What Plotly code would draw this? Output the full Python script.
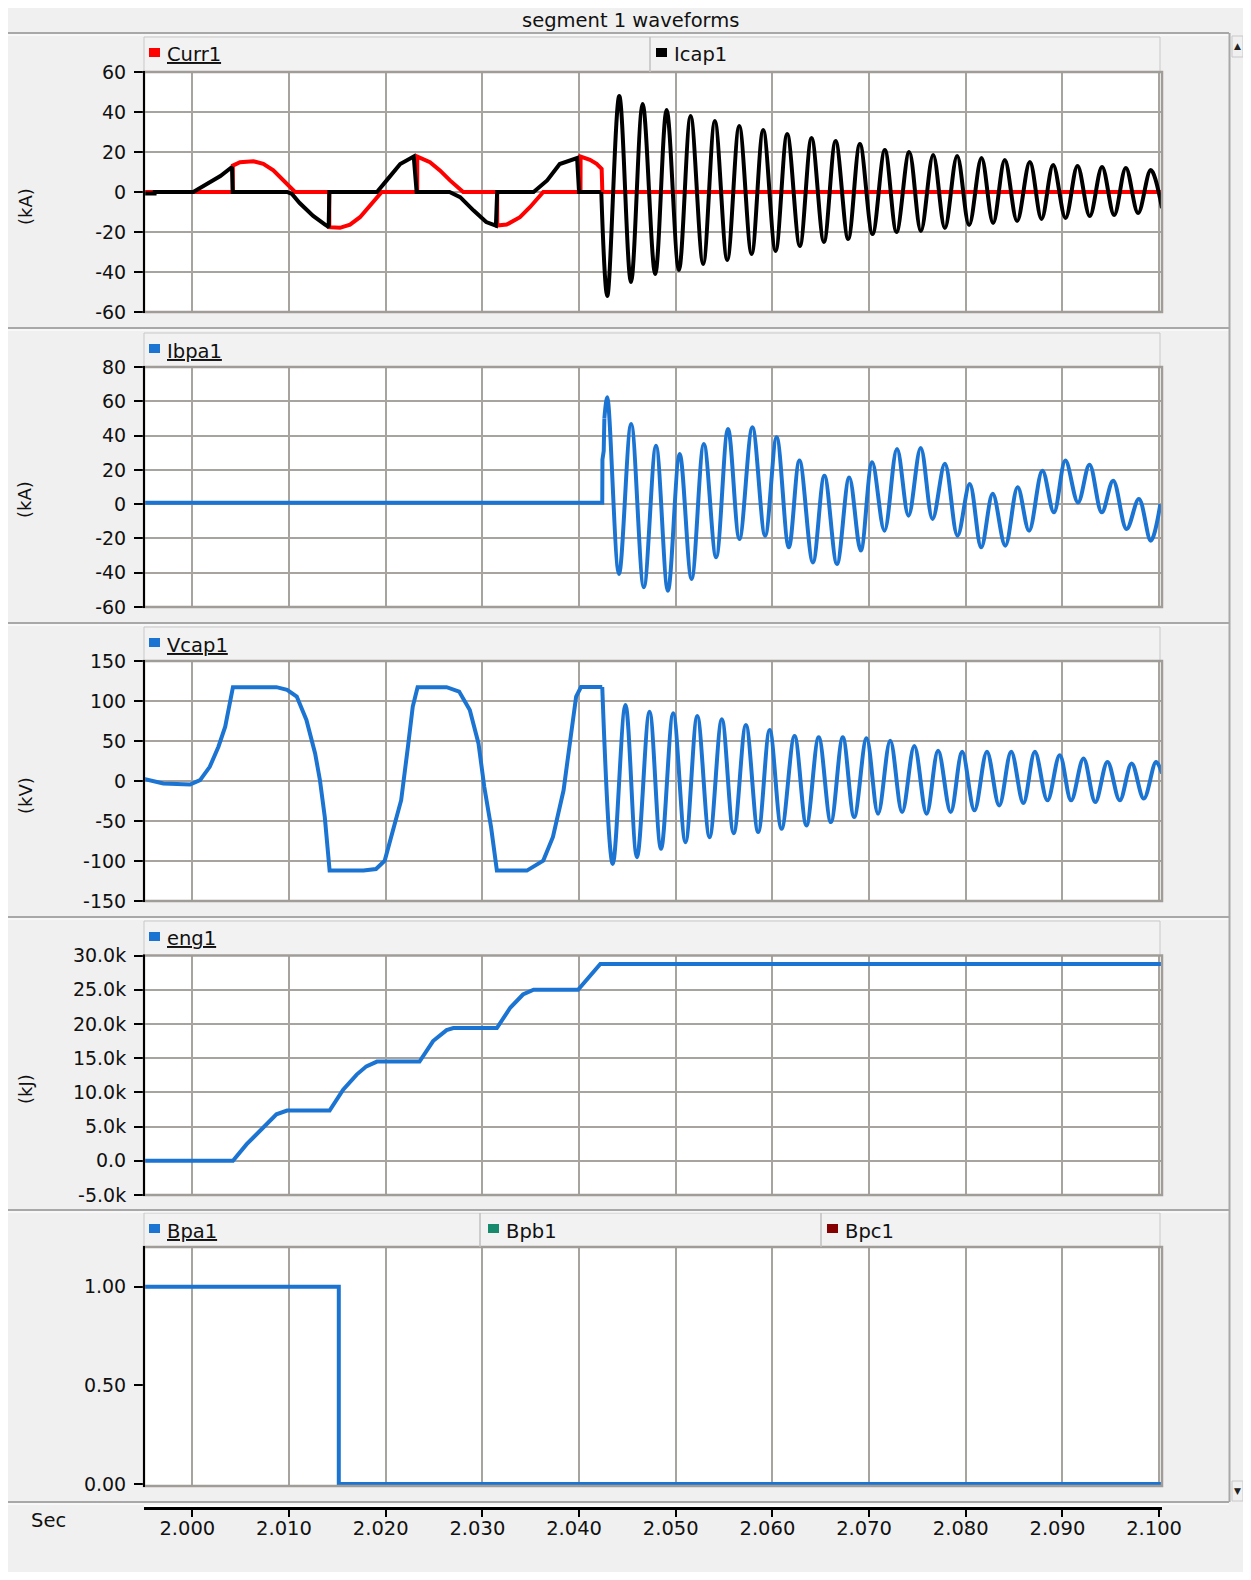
import plotly.graph_objects as go

# ---------------- data (time in s) ----------------
curr1_t = [1.99500, 2.00418, 2.00419, 2.00493, 2.00631, 2.00734, 2.00838, 2.00907, 2.00976, 2.01062,
           2.01416, 2.01417, 2.01527, 2.01631, 2.01734, 2.01837, 2.01907, 2.01959,
           2.02326, 2.02327, 2.02458, 2.02561, 2.02665, 2.02768, 2.02802,
           2.03153, 2.03154, 2.03251, 2.03389, 2.03492, 2.03578, 2.03630,
           2.04015, 2.04016, 2.04113, 2.04182, 2.04234, 2.04241, 2.10030]
curr1_v = [0, 0, 13.2, 14.9, 15.4, 14.1, 10.8, 7.4, 4.1, 0,
           0, -17.6, -17.9, -16.3, -12.6, -6.8, -2.6, 0,
           0, 17.7, 14.9, 10.8, 5.8, 1.6, 0,
           0, -16.8, -16.3, -12.6, -7.6, -2.6, 0,
           0, 17.7, 16.1, 14.1, 11.6, 0, 0]

icap_pre_t = [1.99500, 1.99610, 1.99611, 2.00010, 2.00150, 2.00290, 2.00410, 2.00418,
              2.00980, 2.01030, 2.01110, 2.01250, 2.01380, 2.01410, 2.01417,
              2.01910, 2.02010, 2.02150, 2.02290, 2.02320,
              2.02660, 2.02770, 2.02910, 2.03040, 2.03140, 2.03153,
              2.03530, 2.03670, 2.03800, 2.03980, 2.04000, 2.04230]
icap_pre_v = [-0.8, -0.8, 0, 0, 4, 8, 12.5, 0,
              0, -1, -5.5, -12, -16.5, -17.6, 0,
              0, 5.8, 14, 17.7, 0,
              0, -2.6, -9.3, -15, -16.8, 0,
              0, 5.8, 14, 17, 0, 0]

icap_post_t = [2.04230, 2.04292, 2.04416, 2.04537, 2.04658, 2.04788, 2.04906, 2.05033, 2.05154, 2.05284,
               2.05405, 2.05533, 2.05657, 2.05785, 2.05905, 2.06033, 2.06153, 2.06284, 2.06405, 2.06533,
               2.06654, 2.06784, 2.06905, 2.07036, 2.07163, 2.07284, 2.07415, 2.07536, 2.07663, 2.07784,
               2.07911, 2.08035, 2.08163, 2.08283, 2.08404, 2.08531, 2.08663, 2.08784, 2.08904, 2.09032,
               2.09156, 2.09283, 2.09410, 2.09535, 2.09656, 2.09783, 2.09914, 2.10030]
icap_post_v = [0, -52, 48, -45, 44, -41, 41, -39, 38, -36,
               35.5, -34, 33, -31, 31, -29.5, 29, -27, 27, -25,
               25.5, -23.5, 24, -21, 21, -20, 20, -19.5, 18.5, -18,
               18, -16.5, 17, -15.5, 16, -14.5, 15, -13.5, 13.5, -13,
               13, -12, 12.5, -11.5, 12, -10.5, 11, -8]

ibpa_pre_t = [1.99500, 2.04240, 2.04242, 2.04255, 2.04262]
ibpa_pre_v = [0.8, 0.8, 26, 31, 50]
ibpa_post_t = [2.04262, 2.04292, 2.04413, 2.04539, 2.04670, 2.04796, 2.04919, 2.05041, 2.05164, 2.05291,
               2.05418, 2.05541, 2.05659, 2.05793, 2.05925, 2.06044, 2.06170, 2.06280, 2.06419, 2.06538,
               2.06668, 2.06795, 2.06914, 2.07032, 2.07159, 2.07289, 2.07408, 2.07534, 2.07657, 2.07784,
               2.07915, 2.08041, 2.08160, 2.08279, 2.08409, 2.08537, 2.08655, 2.08793, 2.08912, 2.09031,
               2.09161, 2.09280, 2.09407, 2.09525, 2.09664, 2.09791, 2.09914, 2.10013]
ibpa_post_v = [50, 62.3, -40.7, 46.8, -48.5, 34.1, -50.5, 29.3, -43.6, 35.1,
               -31.0, 43.9, -20.3, 44.8, -18.4, 39.0, -25.2, 25.4, -34.0, 16.6,
               -34.9, 15.6, -27.1, 24.4, -15.5, 32.2, -6.7, 32.8, -8.6, 23.5,
               -18.4, 11.8, -25.2, 6.0, -24.2, 9.8, -15.5, 19.5, -4.8, 25.4,
               1.0, 23.0, -4.8, 13.7, -14.5, 3.0, -21.3, 0]

vcap_pre_t = [1.99500, 1.99700, 1.99976, 2.00080, 2.00180, 2.00270, 2.00340, 2.00390, 2.00420,
              2.00870, 2.00980, 2.01080, 2.01180, 2.01270, 2.01320, 2.01370, 2.01420,
              2.01770, 2.01900, 2.01990, 2.02070, 2.02160, 2.02230, 2.02280, 2.02330,
              2.02630, 2.02760, 2.02870, 2.02960, 2.03020, 2.03090, 2.03150,
              2.03460, 2.03630, 2.03730, 2.03840, 2.03900, 2.03970, 2.04020, 2.04240]
vcap_pre_v = [2.7, -3.2, -4.5, 1.0, 17.7, 42.8, 67.9, 101.4, 117.3,
              117.3, 114.0, 105.6, 76.3, 34.5, 1.0, -45.0, -112.0,
              -112.0, -110.0, -99.5, -66.0, -24.0, 42.8, 93.0, 117.3,
              117.3, 111.8, 88.8, 47.0, -7.5, -57.7, -112.0,
              -112.0, -99.5, -70.0, -11.6, 42.8, 105.6, 117.5, 117.5]
vcap_post_t = [2.04240, 2.04349, 2.04480, 2.04599, 2.04729, 2.04848, 2.04974, 2.05101, 2.05223, 2.05350,
               2.05477, 2.05600, 2.05726, 2.05853, 2.05972, 2.06095, 2.06229, 2.06352, 2.06479, 2.06605,
               2.06728, 2.06846, 2.06974, 2.07093, 2.07219, 2.07342, 2.07468, 2.07595, 2.07714, 2.07844,
               2.07963, 2.08090, 2.08219, 2.08346, 2.08470, 2.08596, 2.08715, 2.08845, 2.08972, 2.09090,
               2.09218, 2.09340, 2.09466, 2.09593, 2.09716, 2.09842, 2.09969, 2.10030]
vcap_post_v = [117.5, -103.7, 95.1, -95.3, 86.7, -84.8, 84.7, -76.5, 81.3, -70.2,
               77.1, -65.2, 70.0, -63.9, 63.7, -59.7, 56.2, -55.6, 54.6, -51.4,
               54.6, -45.1, 53.3, -40.9, 50.3, -38.9, 43.6, -40.9, 37.7, -38.9,
               36.5, -36.7, 36.5, -30.5, 36.5, -27.6, 36.5, -24.2, 32.3, -24.2,
               28.2, -26.3, 23.9, -24.2, 21.9, -22.0, 23.9, 9.4]

eng1_t = [1.99500, 2.00420, 2.00560, 2.00730, 2.00870, 2.00980, 2.01420, 2.01560, 2.01700, 2.01800,
          2.01910, 2.02350, 2.02490, 2.02630, 2.02700, 2.03150, 2.03290, 2.03420, 2.03530, 2.03990,
          2.04110, 2.04220, 2.10030]
eng1_v = [0, 0, 2400, 4900, 6800, 7350, 7350, 10400, 12600, 13800,
          14500, 14500, 17500, 19100, 19400, 19400, 22400, 24300, 25000, 25000,
          27000, 28750, 28750]

bpa1_t = [1.99500, 2.01515, 2.01515, 2.10030]
bpa1_v = [1.0, 1.0, 0.0, 0.0]

x_tick_vals = [2.000, 2.010, 2.020, 2.030, 2.040, 2.050, 2.060, 2.070, 2.080, 2.090, 2.100]
x_tick_text = ["2.000", "2.010", "2.020", "2.030", "2.040", "2.050", "2.060", "2.070", "2.080", "2.090", "2.100"]

# ---------------- layout helpers ----------------
# The page body keeps an 8 px margin, so the figure is 16 px smaller than the window
OFF = 8
W, H = 1251 - 2 * OFF, 1580 - 2 * OFF
def fx(p): return (p - OFF) / W
def fy(p): return 1 - (p - OFF) / H

PL, PR = 144, 1162
X_RANGE = [1.995, 2.1003]
FONT = "DejaVu Sans"
GRID = "#a7a39e"
FRAME = "#a09c98"
BLUE = "#1c74d2"
RED = "#ff0000"
BLACK = "#000000"
BG = "#f0f0f0"
TXT = "#111111"
LW = 4

panels = [
    dict(top=72, bot=312, rng=[-60, 60], tv=[-60, -40, -20, 0, 20, 40, 60],
         tt=["-60", "-40", "-20", "0", "20", "40", "60"], grid=True, unit="(kA)", uy=207, lt=37,
         legend=[("Curr1", RED, True, 149), ("Icap1", BLACK, False, 656)], dividers=[650]),
    dict(top=367, bot=607, rng=[-60, 80], tv=[-60, -40, -20, 0, 20, 40, 60, 80],
         tt=["-60", "-40", "-20", "0", "20", "40", "60", "80"], grid=True, unit="(kA)", uy=500, lt=333,
         legend=[("Ibpa1", BLUE, True, 149)], dividers=[]),
    dict(top=661, bot=901, rng=[-150, 150], tv=[-150, -100, -50, 0, 50, 100, 150],
         tt=["-150", "-100", "-50", "0", "50", "100", "150"], grid=True, unit="(kV)", uy=796, lt=627,
         legend=[("Vcap1", BLUE, True, 149)], dividers=[]),
    dict(top=955.5, bot=1195, rng=[-5000, 30000],
         tv=[-5000, 0, 5000, 10000, 15000, 20000, 25000, 30000],
         tt=["-5.0k", "0.0", "5.0k", "10.0k", "15.0k", "20.0k", "25.0k", "30.0k"],
         grid=True, unit="(kJ)", uy=1089, lt=921,
         legend=[("eng1", BLUE, True, 149)], dividers=[]),
    dict(top=1247, bot=1486, rng=[-0.010, 1.201], tv=[0, 0.5, 1.0],
         tt=["0.00", "0.50", "1.00"], grid=False, unit=None, uy=None, lt=1213,
         legend=[("Bpa1", BLUE, True, 149), ("Bpb1", "#178a6e", False, 488), ("Bpc1", "#850000", False, 827)],
         dividers=[480, 821]),
]

fig = go.Figure()

def ax(i):
    return ("x", "y") if i == 1 else (f"x{i}", f"y{i}")

series = [
    (1, curr1_t, curr1_v, RED, "linear"),
    (1, icap_pre_t, icap_pre_v, BLACK, "linear"),
    (1, icap_post_t, icap_post_v, BLACK, "spline"),
    (2, ibpa_pre_t, ibpa_pre_v, BLUE, "linear"),
    (2, ibpa_post_t, ibpa_post_v, BLUE, "spline"),
    (3, vcap_pre_t, vcap_pre_v, BLUE, "linear"),
    (3, vcap_post_t, vcap_post_v, BLUE, "spline"),
    (4, eng1_t, eng1_v, BLUE, "linear"),
    (5, bpa1_t, bpa1_v, BLUE, "linear"),
]
for (p, t, v, c, shp) in series:
    xa, ya = ax(p)
    line = dict(color=c, width=LW, shape=shp)
    if shp == "spline":
        line["smoothing"] = 1.0
    fig.add_trace(go.Scatter(x=t, y=v, mode="lines", line=line, xaxis=xa, yaxis=ya,
                             showlegend=False, hoverinfo="skip"))

# dummy trace for the shared bottom time axis
fig.add_trace(go.Scatter(x=[2.0], y=[None], mode="lines", xaxis="x6", yaxis="y6",
                         showlegend=False, hoverinfo="skip"))

layout = dict(width=W, height=H, autosize=False,
              margin=dict(l=0, r=0, t=0, b=0, pad=0, autoexpand=False),
              paper_bgcolor=BG, plot_bgcolor="white", showlegend=False,
              font=dict(family=FONT, size=18, color=TXT))

shapes = []
annotations = []

for i, P in enumerate(panels, start=1):
    xa, ya = ax(i)
    xkey = "xaxis" if i == 1 else f"xaxis{i}"
    ykey = "yaxis" if i == 1 else f"yaxis{i}"
    layout[xkey] = dict(domain=[fx(PL), fx(PR)], range=X_RANGE, anchor=ya, automargin=False,
                        showticklabels=False, ticks="", showgrid=True, gridcolor=GRID, gridwidth=2,
                        tickvals=x_tick_vals, zeroline=False, showline=False, fixedrange=True)
    layout[ykey] = dict(domain=[fy(P["bot"]), fy(P["top"])], range=P["rng"], anchor=xa,
                        automargin=False, ticklabelstandoff=4,
                        tickvals=P["tv"], ticktext=P["tt"], ticks="outside", ticklen=9,
                        tickwidth=1.5, tickcolor="black", showgrid=P["grid"], gridcolor=GRID,
                        gridwidth=2, zeroline=False, showline=False,
                        tickfont=dict(family=FONT, size=19, color=TXT), fixedrange=True)
    # frame
    shapes.append(dict(type="rect", xref="paper", yref="paper", x0=fx(PL), x1=fx(PR),
                       y0=fy(P["bot"]), y1=fy(P["top"]), line=dict(color=FRAME, width=2.5),
                       fillcolor="rgba(0,0,0,0)", layer="above"))
    shapes.append(dict(type="line", xref="paper", yref="paper", x0=fx(PL), x1=fx(PL),
                       y0=fy(P["bot"] + 1), y1=fy(P["top"] - 1), line=dict(color="black", width=2),
                       layer="above"))
    # legend bar
    lt = P["lt"]
    shapes.append(dict(type="rect", xref="paper", yref="paper", x0=fx(PL), x1=fx(1160),
                       y0=fy(P["top"]), y1=fy(lt), fillcolor="#f2f2f2",
                       line=dict(color="#c8c8c8", width=1), layer="below"))
    for d in P["dividers"]:
        shapes.append(dict(type="line", xref="paper", yref="paper", x0=fx(d), x1=fx(d),
                           y0=fy(P["top"]), y1=fy(lt), line=dict(color="#c0c0c0", width=1.5)))
    for (name, col, active, sx) in P["legend"]:
        shapes.append(dict(type="rect", xref="paper", yref="paper", x0=fx(sx), x1=fx(sx + 11),
                           y0=fy(lt + 20), y1=fy(lt + 11), fillcolor=col, line=dict(width=0)))
        txt = f"<u>{name}</u>" if active else name
        annotations.append(dict(text=txt, xref="paper", yref="paper", x=fx(sx + 16), y=fy(lt + 18),
                                xanchor="left", yanchor="middle", showarrow=False,
                                font=dict(family=FONT, size=19.5, color=TXT)))
    if P["unit"]:
        annotations.append(dict(text=P["unit"], xref="paper", yref="paper", x=fx(25), y=fy(P["uy"]),
                                textangle=-90, xanchor="center", yanchor="middle", showarrow=False,
                                font=dict(family=FONT, size=18, color=TXT)))

# bottom time axis
layout["xaxis6"] = dict(domain=[fx(PL), fx(PR)], range=X_RANGE, anchor="y6", side="bottom",
                        automargin=False, ticklabelshift=-5, ticklabelstandoff=-5,
                        showline=True, linecolor="black", linewidth=3, ticks="outside", ticklen=7,
                        tickwidth=1.5, tickcolor="black", tickvals=x_tick_vals, ticktext=x_tick_text,
                        showgrid=False, zeroline=False, fixedrange=True,
                        tickfont=dict(family=FONT, size=19.5, color=TXT))
layout["yaxis6"] = dict(domain=[fy(1507), fy(1505)], anchor="x6", visible=False, fixedrange=True,
                        automargin=False)

# separators
for sy in [33, 328, 623, 917, 1210, 1502]:
    shapes.append(dict(type="line", xref="paper", yref="paper", x0=0, x1=fx(1229),
                       y0=fy(sy), y1=fy(sy), line=dict(color="#a8a8a8", width=2)))
    shapes.append(dict(type="line", xref="paper", yref="paper", x0=0, x1=fx(1229),
                       y0=fy(sy + 2), y1=fy(sy + 2), line=dict(color="white", width=1)))

# scrollbar
shapes.append(dict(type="line", xref="paper", yref="paper", x0=fx(1229.5), x1=fx(1229.5),
                   y0=fy(1502), y1=fy(33), line=dict(color="#a8a8a8", width=2)))
shapes.append(dict(type="rect", xref="paper", yref="paper", x0=fx(1232), x1=1,
                   y0=fy(57), y1=fy(36), fillcolor=BG, line=dict(color="#c8c8c8", width=1)))
shapes.append(dict(type="rect", xref="paper", yref="paper", x0=fx(1232), x1=1,
                   y0=fy(1501), y1=fy(1481), fillcolor=BG, line=dict(color="#c8c8c8", width=1)))
annotations.append(dict(text="▲", xref="paper", yref="paper", x=fx(1237.5), y=fy(46),
                        xanchor="center", yanchor="middle", showarrow=False,
                        font=dict(family=FONT, size=9, color="#222222")))
annotations.append(dict(text="▼", xref="paper", yref="paper", x=fx(1237.5), y=fy(1491),
                        xanchor="center", yanchor="middle", showarrow=False,
                        font=dict(family=FONT, size=9, color="#222222")))

# title and axis label
annotations.append(dict(text="segment 1 waveforms", xref="paper", yref="paper", x=fx(630), y=fy(20),
                        xanchor="center", yanchor="middle", showarrow=False,
                        font=dict(family=FONT, size=19.5, color=TXT)))
annotations.append(dict(text="Sec", xref="paper", yref="paper", x=fx(48), y=fy(1520),
                        xanchor="center", yanchor="middle", showarrow=False,
                        font=dict(family=FONT, size=19.5, color=TXT)))

layout["shapes"] = shapes
layout["annotations"] = annotations
fig.update_layout(**layout)

fig.write_html("out.html")
